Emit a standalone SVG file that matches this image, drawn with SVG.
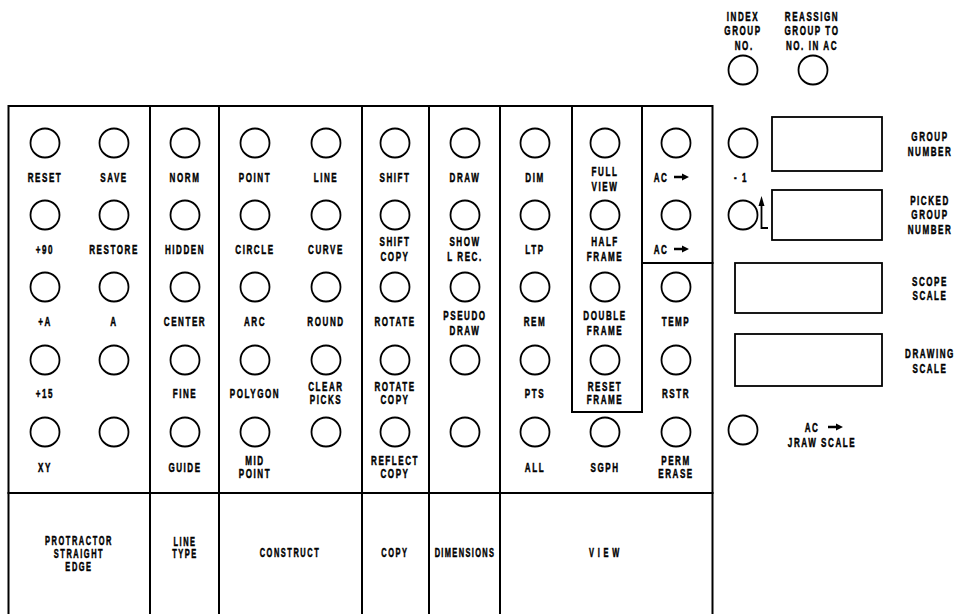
<svg xmlns="http://www.w3.org/2000/svg" width="956" height="614" viewBox="0 0 956 614">
<style>
.bg{fill:#fff}
.ln{stroke:#000;stroke-width:2;fill:none;stroke-linecap:square}
.bx{stroke:#000;stroke-width:1.8;fill:none}
.b{stroke:#000;stroke-width:1.8;fill:none}
text{font-family:"Liberation Sans",Arial,sans-serif;font-weight:bold;font-size:13px;letter-spacing:2.5px;text-anchor:middle;fill:#000;stroke:#000;stroke-width:0.5;transform-box:fill-box;transform-origin:center;transform:scaleX(0.62)}
.sm{font-size:12px}
</style>
<defs>
<path id="arr" d="M0,-1.2 H8 V-3.6 L15,0 L8,3.6 V1.2 H0 Z" fill="#000"/>
</defs>
<rect class="bg" x="0" y="0" width="956" height="614"/>

<g id="frame">
<path class="ln" d="M8.5,620 V106 H712.5 V620"/>
<path class="ln" d="M8.5,493 H712.5"/>
<path class="ln" d="M150,106 V620 M219,106 V620 M362,106 V620 M429,106 V620 M500,106 V620"/>
<path class="ln" d="M572,106 V412 H642 V106 M642,263 H712.5"/>
</g>

<!-- column 1 -->
<g id="btn-reset"><circle class="b" cx="45" cy="143" r="14.5"/><text x="45" y="181.6">RESET</text></g>
<g id="btn-plus90"><circle class="b" cx="45" cy="215" r="14.5"/><text x="45" y="253.6">+90</text></g>
<g id="btn-plusA"><circle class="b" cx="45" cy="287" r="14.5"/><text x="45" y="325.6">+A</text></g>
<g id="btn-plus15"><circle class="b" cx="45" cy="360" r="14.5"/><text x="45" y="397.6">+15</text></g>
<g id="btn-xy"><circle class="b" cx="45" cy="432" r="14.5"/><text x="45" y="471.6">XY</text></g>
<!-- column 2 -->
<g id="btn-save"><circle class="b" cx="114" cy="143" r="14.5"/><text x="114" y="181.6">SAVE</text></g>
<g id="btn-restore"><circle class="b" cx="114" cy="215" r="14.5"/><text x="114" y="253.6">RESTORE</text></g>
<g id="btn-a"><circle class="b" cx="114" cy="287" r="14.5"/><text x="114" y="325.6">A</text></g>
<g id="btn-c2r4"><circle class="b" cx="114" cy="360" r="14.5"/></g>
<g id="btn-c2r5"><circle class="b" cx="114" cy="432" r="14.5"/></g>
<!-- column 3 -->
<g id="btn-norm"><circle class="b" cx="185" cy="143" r="14.5"/><text x="185" y="181.6">NORM</text></g>
<g id="btn-hidden"><circle class="b" cx="185" cy="215" r="14.5"/><text x="185" y="253.6">HIDDEN</text></g>
<g id="btn-center"><circle class="b" cx="185" cy="287" r="14.5"/><text x="185" y="325.6">CENTER</text></g>
<g id="btn-fine"><circle class="b" cx="185" cy="360" r="14.5"/><text x="185" y="397.6">FINE</text></g>
<g id="btn-guide"><circle class="b" cx="185" cy="432" r="14.5"/><text x="185" y="471.6">GUIDE</text></g>
<!-- column 4 -->
<g id="btn-point"><circle class="b" cx="255" cy="143" r="14.5"/><text x="255" y="181.6">POINT</text></g>
<g id="btn-circle"><circle class="b" cx="255" cy="215" r="14.5"/><text x="255" y="253.6">CIRCLE</text></g>
<g id="btn-arc"><circle class="b" cx="255" cy="287" r="14.5"/><text x="255" y="325.6">ARC</text></g>
<g id="btn-polygon"><circle class="b" cx="255" cy="360" r="14.5"/><text x="255" y="397.6">POLYGON</text></g>
<g id="btn-midpoint"><circle class="b" cx="255" cy="432" r="14.5"/><text x="255" y="464.6">MID<tspan x="255" dy="13">POINT</tspan></text></g>
<!-- column 5 -->
<g id="btn-line"><circle class="b" cx="326" cy="143" r="14.5"/><text x="326" y="181.6">LINE</text></g>
<g id="btn-curve"><circle class="b" cx="326" cy="215" r="14.5"/><text x="326" y="253.6">CURVE</text></g>
<g id="btn-round"><circle class="b" cx="326" cy="287" r="14.5"/><text x="326" y="325.6">ROUND</text></g>
<g id="btn-clearpicks"><circle class="b" cx="326" cy="360" r="14.5"/><text x="326" y="390.6">CLEAR<tspan x="326" dy="13">PICKS</tspan></text></g>
<g id="btn-c5r5"><circle class="b" cx="326" cy="432" r="14.5"/></g>
<!-- column 6 -->
<g id="btn-shift"><circle class="b" cx="395" cy="143" r="14.5"/><text x="395" y="181.6">SHIFT</text></g>
<g id="btn-shiftcopy"><circle class="b" cx="395" cy="215" r="14.5"/><text x="395" y="245.6">SHIFT<tspan x="395" dy="15">COPY</tspan></text></g>
<g id="btn-rotate"><circle class="b" cx="395" cy="287" r="14.5"/><text x="395" y="325.6">ROTATE</text></g>
<g id="btn-rotatecopy"><circle class="b" cx="395" cy="360" r="14.5"/><text x="395" y="390.6">ROTATE<tspan x="395" dy="13">COPY</tspan></text></g>
<g id="btn-reflectcopy"><circle class="b" cx="395" cy="432" r="14.5"/><text x="395" y="464.6">REFLECT<tspan x="395" dy="13">COPY</tspan></text></g>
<!-- column 7 -->
<g id="btn-draw"><circle class="b" cx="465" cy="143" r="14.5"/><text x="465" y="181.6">DRAW</text></g>
<g id="btn-showlrec"><circle class="b" cx="465" cy="215" r="14.5"/><text x="465" y="245.6">SHOW<tspan x="465" dy="15">L REC.</tspan></text></g>
<g id="btn-pseudodraw"><circle class="b" cx="465" cy="287" r="14.5"/><text x="465" y="319.6">PSEUDO<tspan x="465" dy="15">DRAW</tspan></text></g>
<g id="btn-c7r4"><circle class="b" cx="465" cy="360" r="14.5"/></g>
<g id="btn-c7r5"><circle class="b" cx="465" cy="432" r="14.5"/></g>
<!-- column 8 -->
<g id="btn-dim"><circle class="b" cx="535" cy="143" r="14.5"/><text x="535" y="181.6">DIM</text></g>
<g id="btn-ltp"><circle class="b" cx="535" cy="215" r="14.5"/><text x="535" y="253.6">LTP</text></g>
<g id="btn-rem"><circle class="b" cx="535" cy="287" r="14.5"/><text x="535" y="325.6">REM</text></g>
<g id="btn-pts"><circle class="b" cx="535" cy="360" r="14.5"/><text x="535" y="397.6">PTS</text></g>
<g id="btn-all"><circle class="b" cx="535" cy="432" r="14.5"/><text x="535" y="471.6">ALL</text></g>
<!-- column 9 -->
<g id="btn-fullview"><circle class="b" cx="605" cy="143" r="14.5"/><text x="605" y="175.6">FULL<tspan x="605" dy="15">VIEW</tspan></text></g>
<g id="btn-halfframe"><circle class="b" cx="605" cy="215" r="14.5"/><text x="605" y="245.6">HALF<tspan x="605" dy="15">FRAME</tspan></text></g>
<g id="btn-doubleframe"><circle class="b" cx="605" cy="287" r="14.5"/><text x="605" y="319.6">DOUBLE<tspan x="605" dy="15">FRAME</tspan></text></g>
<g id="btn-resetframe"><circle class="b" cx="605" cy="360" r="14.5"/><text x="605" y="390.6">RESET<tspan x="605" dy="13">FRAME</tspan></text></g>
<g id="btn-sgph"><circle class="b" cx="605" cy="432" r="14.5"/><text x="605" y="471.6">SGPH</text></g>
<!-- column 10 -->
<g id="btn-ac1"><circle class="b" cx="676" cy="143" r="14.5"/><text x="661" y="181.6">AC</text><use href="#arr" x="674" y="177"/></g>
<g id="btn-ac2"><circle class="b" cx="676" cy="215" r="14.5"/><text x="661" y="253.6">AC</text><use href="#arr" x="674" y="249"/></g>
<g id="btn-temp"><circle class="b" cx="676" cy="287" r="14.5"/><text x="676" y="325.6">TEMP</text></g>
<g id="btn-rstr"><circle class="b" cx="676" cy="360" r="14.5"/><text x="676" y="397.6">RSTR</text></g>
<g id="btn-permerase"><circle class="b" cx="676" cy="432" r="14.5"/><text x="676" y="464.6">PERM<tspan x="676" dy="13">ERASE</tspan></text></g>

<!-- group labels -->
<g id="lbl-protractor"><text class="sm" x="79" y="545">PROTRACTOR<tspan x="79" dy="13">STRAIGHT</tspan><tspan x="79" dy="13">EDGE</tspan></text></g>
<g id="lbl-linetype"><text class="sm" x="185" y="546">LINE<tspan x="185" dy="12.5">TYPE</tspan></text></g>
<g id="lbl-construct"><text class="sm" x="290" y="557">CONSTRUCT</text></g>
<g id="lbl-copy"><text class="sm" x="395" y="557">COPY</text></g>
<g id="lbl-dimensions"><text class="sm" x="465" y="557" style="letter-spacing:2.2px">DIMENSIONS</text></g>
<g id="lbl-view"><text class="sm" x="606" y="557" style="letter-spacing:6px">VIEW</text></g>

<!-- right side -->
<g id="btn-indexgroup"><text x="743" y="20.6">INDEX<tspan x="743" dy="14.5">GROUP</tspan><tspan x="745" dy="14.5">NO.</tspan></text><circle class="b" cx="743" cy="70" r="14.5"/></g>
<g id="btn-reassign"><text x="812" y="20.6">REASSIGN<tspan x="812" dy="14.5">GROUP TO</tspan><tspan x="812" dy="14.5">NO. IN AC</tspan></text><circle class="b" cx="813" cy="70" r="14.5"/></g>
<g id="btn-minus1"><circle class="b" cx="743" cy="143" r="14.5"/><text x="741" y="181.6">- 1</text></g>
<g id="disp-group"><rect class="bx" x="772" y="117" width="110" height="54"/><text x="930" y="140.6">GROUP<tspan x="930" dy="15.5">NUMBER</tspan></text></g>
<g id="disp-picked"><circle class="b" cx="743" cy="215" r="14.5"/><path d="M761.5,205 V228 H768" class="b"/><path d="M758.5,206 L761.5,196 L764.5,206 Z" fill="#000"/><rect class="bx" x="772" y="190" width="110" height="50"/><text x="930" y="205.3">PICKED<tspan x="930" dy="14.2">GROUP</tspan><tspan x="930" dy="14.2">NUMBER</tspan></text></g>
<g id="disp-scope"><rect class="bx" x="735" y="263" width="147" height="50"/><text x="930" y="286.3">SCOPE<tspan x="930" dy="14">SCALE</tspan></text></g>
<g id="disp-drawing"><rect class="bx" x="735" y="334" width="147" height="52"/><text x="930" y="358">DRAWING<tspan x="930" dy="15">SCALE</tspan></text></g>
<g id="btn-acdraw"><circle class="b" cx="743" cy="430" r="14.5"/><text x="812" y="431.6">AC</text><use href="#arr" x="828" y="427"/><text x="822" y="446.6">JRAW SCALE</text></g>
</svg>
